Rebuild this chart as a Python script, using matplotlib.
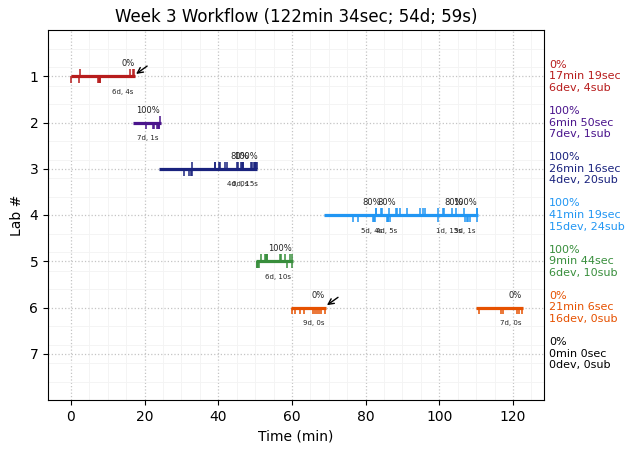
import matplotlib
matplotlib.use("Agg")
import matplotlib.pyplot as plt

# one entry per lab
colors = ['#b71c1c', '#4a148c', '#1a237e', '#2196f3', '#388e3c', '#e65100', '#000000']
side_text = [
    '0%\n17min 19sec\n6dev, 4sub',
    '100%\n6min 50sec\n7dev, 1sub',
    '100%\n26min 16sec\n4dev, 20sub',
    '100%\n41min 19sec\n15dev, 24sub',
    '100%\n9min 44sec\n6dev, 10sub',
    '0%\n21min 6sec\n16dev, 0sub',
    '0%\n0min 0sec\n0dev, 0sub',
]

# (lab, start, end)
spans = [
    (1, 0.0, 17.5),
    (2, 17.0, 24.4),
    (3, 23.9, 50.6),
    (4, 68.6, 110.4),
    (5, 50.2, 60.3),
    (6, 59.8, 69.2),
    (6, 110.0, 122.8),
]

submissions = {
    1: [2.5, 16.1, 17.0, 17.2],
    2: [24.1],
    3: [33.0, 39.0, 39.2, 40.2, 40.5, 41.7, 42.3, 45.0, 45.3, 46.2, 46.4, 46.6,
        46.8, 48.9, 49.2, 49.6, 49.9, 50.0, 50.2, 50.4],
    4: [82.7, 82.9, 84.1, 84.4, 86.4, 88.2, 88.6, 89.2, 91.3, 94.8, 95.5, 96.1,
        99.5, 101.1, 101.3, 103.5, 104.4, 106.8, 110.1, 110.2],
    5: [51.5, 52.7, 52.9, 53.1, 53.3, 56.7, 57.0, 58.1, 59.4, 60.0],
}
devs = {
    1: [0.1, 2.3, 7.4, 7.6, 7.8, 8.0],
    2: [20.4, 22.4, 22.6, 23.5, 23.7, 23.9, 24.0],
    3: [30.8, 32.1, 32.6, 32.8],
    4: [76.7, 78.0, 82.0, 82.4, 82.6, 85.8, 86.0, 86.2, 86.5, 99.5, 106.9, 107.4,
        107.8, 108.2, 110.1],
    5: [50.4, 50.6, 50.8, 51.0, 58.6, 59.9],
    6: [60.0, 60.8, 62.2, 63.3, 65.6, 66.2, 66.8, 67.3, 67.9, 69.0, 110.8, 116.6,
        117.3, 121.0, 121.6, 122.4],
}

# (lab, x, text)
pct_labels = [
    (1, 15.5, '0%'), (2, 20.9, '100%'), (3, 45.9, '80%'), (3, 47.5, '100%'),
    (4, 81.7, '80%'), (4, 85.8, '80%'), (4, 104.0, '80%'), (4, 107.0, '100%'),
    (5, 56.8, '100%'), (6, 67.0, '0%'), (6, 120.5, '0%'),
]
day_labels = [
    (1, 14.2, '6d, 4s'), (2, 20.9, '7d, 1s'), (3, 45.2, '4d, 0s'), (3, 47.3, '0d, 15s'),
    (4, 81.7, '5d, 4s'), (4, 85.6, '4d, 5s'), (4, 102.6, '1d, 15s'), (4, 107.0, '3d, 1s'),
    (5, 56.2, '6d, 10s'), (6, 66.0, '9d, 0s'), (6, 119.5, '7d, 0s'),
]
# late labs get an arrow at the end of the bar
arrows = [(1, 17.7), (6, 69.5)]

fig = plt.figure(figsize=(6.34, 4.53), dpi=100)
ax = fig.add_axes([48 / 634, 1 - 400 / 453, 496 / 634, 370 / 453])

for lab, start, end in spans:
    ax.hlines(lab, start, end, color=colors[lab - 1], linewidth=2.3, zorder=3)
for lab, times in submissions.items():
    ax.vlines(times, lab - 0.15, lab, color=colors[lab - 1], linewidth=1.1, zorder=3)
for lab, times in devs.items():
    ax.vlines(times, lab, lab + 0.15, color=colors[lab - 1], linewidth=1.1, zorder=3)

for lab, x, txt in pct_labels:
    ax.text(x, lab - 0.27, txt, fontsize=6, ha='center', va='center', color='#222222')
for lab, x, txt in day_labels:
    ax.text(x, lab + 0.34, txt, fontsize=5, ha='center', va='center', color='#222222')
for lab, x in arrows:
    ax.annotate('', xy=(x, lab - 0.05), xytext=(x + 3, lab - 0.22),
                arrowprops=dict(arrowstyle='->', color='black', lw=1.0, shrinkA=0, shrinkB=0))

for i, txt in enumerate(side_text):
    ax.annotate(txt, xy=(1.01, i + 1), xycoords=('axes fraction', 'data'), fontsize=8,
                color=colors[i], ha='left', va='center', linespacing=1.2, annotation_clip=False)

ax.set_xlim(-6.2, 128.4)
ax.set_ylim(8, 0)
ax.set_yticks(range(1, 8))
ax.set_xticks(range(0, 121, 20))
ax.set_xticks(range(0, 126, 5), minor=True)
ax.set_yticks([y * 0.4 for y in range(1, 20)], minor=True)
ax.tick_params(which='minor', length=0)
ax.grid(which='major', color='#c4c4c4', linestyle=':', linewidth=0.9)
ax.grid(which='minor', color='#f3f3f3', linestyle='-', linewidth=0.6)
ax.set_axisbelow(True)
ax.set_xlabel('Time (min)')
ax.set_ylabel('Lab #')
ax.set_title('Week 3 Workflow (122min 34sec; 54d; 59s)')

fig.savefig('out.png', dpi=100)
